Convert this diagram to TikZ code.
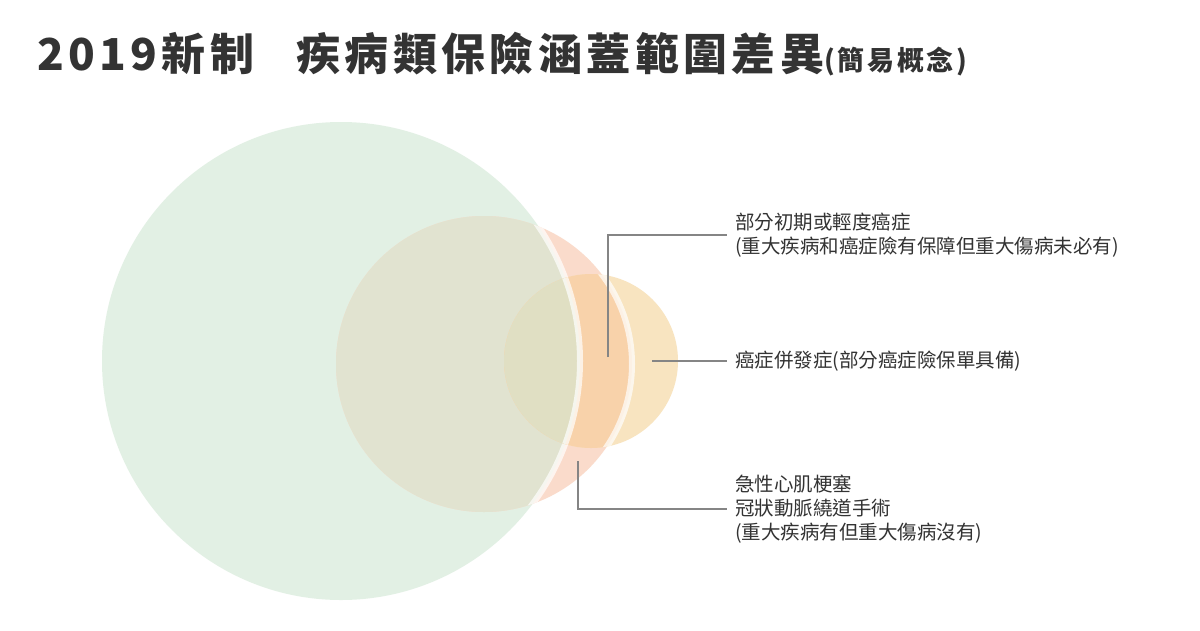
\documentclass[tikz,border=0pt]{standalone}
\usepackage{fontspec}
\setmainfont{Noto Sans CJK TC}
\newfontfamily\titlefont{Noto Sans CJK TC}[LetterSpace=10]
\definecolor{bigc}{HTML}{E2F0E4}
\definecolor{midc}{HTML}{FADBCB}
\definecolor{smallc}{HTML}{F8E4C0}
\definecolor{bigmid}{HTML}{E1E3D0}
\definecolor{midsmall}{HTML}{F8D2AA}
\definecolor{allthree}{HTML}{E0DFC3}
\definecolor{leadgray}{HTML}{858585}
\definecolor{inkgray}{HTML}{333333}
\tikzset{
  lead/.style={draw=leadgray,line width=1.5pt},
  rim/.style={draw=white,opacity=0.7,line width=6pt},
  note/.style={anchor=west,align=left,inner xsep=8pt,inner ysep=0pt,text=inkgray,font=\fontsize{19.5}{24}\selectfont},
}
\begin{document}
\begin{tikzpicture}[x=1pt,y=-1pt]
\useasboundingbox (0,0) rectangle (1200,630);
\fill[white] (0,0) rectangle (1200,630);
\fill[bigc] (341,361) circle (239);
\fill[midc] (484,364) circle (148);
\begin{scope}
  \clip (484,364) circle (148);
  \fill[bigmid] (341,361) circle (239);
  \draw[rim] (341,361) circle (239);
\end{scope}
\fill[smallc] (591,361) circle (87);
\begin{scope}
  \clip (591,361) circle (87);
  \fill[midsmall] (484,364) circle (148);
  \fill[allthree] (341,361) circle (239);
  \draw[rim] (341,361) circle (239);
  \draw[rim] (484,364) circle (148);
\end{scope}
\node[anchor=base west,inner sep=0pt,text=inkgray,font=\titlefont\bfseries\fontsize{44}{44}\selectfont] (title) at (37,70)
  {2019新制\hspace{42pt}疾病類保險涵蓋範圍差異{\fontsize{27}{27}\selectfont(簡易概念)}};
\coordinate (earlyend) at (608,357);
\coordinate (compend) at (652,361);
\coordinate (heartend) at (578,461);
\node[note] (early) at (727,235) {部分初期或輕度癌症\\(重大疾病和癌症險有保障但重大傷病未必有)};
\node[note] (comp) at (727,361) {癌症併發症(部分癌症險保單具備)};
\node[note] (heart) at (727,509) {急性心肌梗塞\\冠狀動脈繞道手術\\(重大疾病有但重大傷病沒有)};
\draw[lead] (earlyend) |- (early.west);
\draw[lead] (compend) -- (comp.west);
\draw[lead] (heartend) |- (heart.west);
\end{tikzpicture}
\end{document}
